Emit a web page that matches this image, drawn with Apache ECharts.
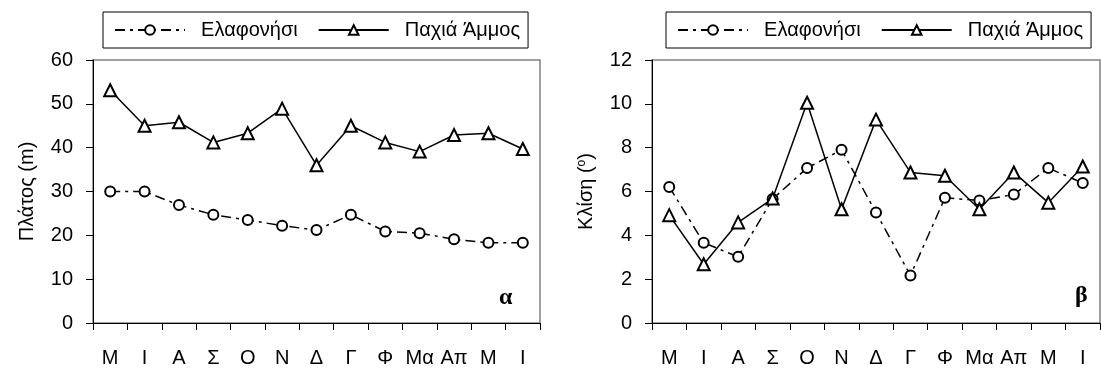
<!DOCTYPE html>
<html>
<head>
<meta charset="utf-8">
<script src="https://cdn.jsdelivr.net/npm/echarts@6/dist/echarts.min.js"></script>
<style>
html,body{margin:0;padding:0;background:#fff;}
#chart{width:1101px;height:369px;}
</style>
</head>
<body>
<div id="chart"></div>
<script>
// month initials, Μάιος .. Ιούνιος
const months = ["Μ", "Ι", "Α", "Σ", "Ο", "Ν", "Δ", "Γ", "Φ", "Μα", "Απ", "Μ", "Ι"];

// (α) beach width, m
const widthElafonisi = [30, 30, 26.9, 24.7, 23.5, 22.2, 21.2, 24.7, 20.9, 20.5, 19.1, 18.3, 18.3];
const widthPachia = [53.1, 45, 45.8, 41.2, 43.3, 48.9, 36, 45, 41.2, 39.1, 42.9, 43.3, 39.7];

// (β) beach slope, degrees
const slopeElafonisi = [6.21, 3.66, 3.02, 5.66, 7.07, 7.9, 5.04, 2.17, 5.71, 5.59, 5.86, 7.07, 6.39];
const slopePachia = [4.92, 2.68, 4.59, 5.68, 10.05, 5.19, 9.28, 6.87, 6.72, 5.19, 6.87, 5.49, 7.14];

const FONT = "Liberation Sans";

const dashDot = {
    color: "#000",
    width: 1.5,
    type: [10, 5, 3, 5]
};

const solid = {
    color: "#000",
    width: 1.5,
    type: "solid"
};

function xAxis(gridIndex){
    return {
        type: "category",
        gridIndex: gridIndex,
        data: months,
        boundaryGap: true,
        axisLine: {lineStyle: {color: "#000", width: 1}},
        axisTick: {show: true, length: 7, interval: 0, lineStyle: {color: "#000"}},
        axisLabel: {interval: 0, margin: 25, color: "#000", fontFamily: FONT, fontSize: 20}
    };
}

function yAxis(gridIndex, max, interval, name, gap){
    return {
        type: "value",
        gridIndex: gridIndex,
        min: 0,
        max: max,
        interval: interval,
        name: name,
        nameLocation: "middle",
        nameGap: gap,
        nameTextStyle: {
            color: "#000",
            fontFamily: FONT,
            fontSize: 20,
            rich: {
                sup: {fontFamily: FONT, fontSize: 12, color: "#000", verticalAlign: "top", lineHeight: 20}
            }
        },
        splitLine: {show: false},
        axisLine: {show: true, lineStyle: {color: "#000", width: 1}},
        axisTick: {show: true, length: 7, lineStyle: {color: "#000"}},
        axisLabel: {margin: 20, color: "#000", fontFamily: FONT, fontSize: 20}
    };
}

function legend(left){
    return {
        left: left,
        top: 12,
        width: 440,
        orient: "horizontal",
        borderColor: "#000",
        borderWidth: 1,
        padding: [8, 8, 8, 11],
        itemWidth: 70,
        itemHeight: 12,
        itemGap: 20,
        selectedMode: false,
        formatter: name => "  " + name,
        textStyle: {color: "#000", fontFamily: FONT, fontSize: 20},
        data: ["Ελαφονήσι", "Παχιά Άμμος"]
    };
}

function series(name, data, axisIndex, line, symbol){
    return {
        name: name,
        type: "line",
        xAxisIndex: axisIndex,
        yAxisIndex: axisIndex,
        data: data,
        symbol: symbol,
        symbolSize: symbol === "emptyCircle" ? 10 : 12,
        showAllSymbol: true,
        lineStyle: line,
        itemStyle: {color: "#000", borderColor: "#000", borderWidth: 1.5},
        emphasis: {disabled: true},
        animation: false
    };
}

const chart = echarts.init(document.getElementById("chart"), null, {renderer: "canvas"});

chart.setOption({
    backgroundColor: "#fff",
    animation: false,
    legend: [legend(103), legend(666)],
    grid: [
        {left: 93, right: 561, top: 60, bottom: 46, show: true, borderColor: "#808080", borderWidth: 1.5},
        {left: 652, right: 1, top: 60, bottom: 46, show: true, borderColor: "#808080", borderWidth: 1.5}
    ],
    xAxis: [xAxis(0), xAxis(1)],
    yAxis: [
        yAxis(0, 60, 10, "Πλάτος (m)", 56),
        yAxis(1, 12, 2, "Κλίση ({sup|o})", 56)
    ],
    series: [
        series("Ελαφονήσι", widthElafonisi, 0, dashDot, "emptyCircle"),
        series("Παχιά Άμμος", widthPachia, 0, solid, "emptyTriangle"),
        series("Ελαφονήσι", slopeElafonisi, 1, dashDot, "emptyCircle"),
        series("Παχιά Άμμος", slopePachia, 1, solid, "emptyTriangle")
    ],
    graphic: [
        {type: "text", left: 499, top: 286, style: {text: "α", fontFamily: "Liberation Serif", fontWeight: "bold", fontSize: 24, fill: "#000"}},
        {type: "text", left: 1075, top: 284, style: {text: "β", fontFamily: "Liberation Serif", fontWeight: "bold", fontSize: 24, fill: "#000"}}
    ]
});
</script>
</body>
</html>
